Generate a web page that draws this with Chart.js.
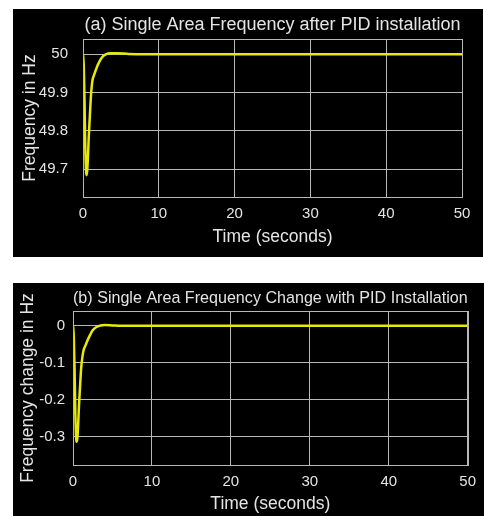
<!DOCTYPE html>
<html>
<head>
<meta charset="utf-8">
<script src="https://cdn.jsdelivr.net/npm/chart.js@4"></script>
<style>
  html, body { margin: 0; padding: 0; background: #ffffff; width: 484px; height: 516px; overflow: hidden; }
  .panel { position: absolute; background: #000000; }
  #pa { left: 13px; top: 9px; width: 470px; height: 248px; }
  #pb { left: 13px; top: 283px; width: 471px; height: 233px; }
  canvas { display: block; }
</style>
</head>
<body>
<div class="panel" id="pa"><canvas id="ca"></canvas></div>
<div class="panel" id="pb"><canvas id="cb"></canvas></div>
<script>
// ---- Data (a): frequency after PID installation ----
const timeA = [0, 0.1, 0.2, 0.3, 0.4, 0.47, 0.55, 0.65, 0.75, 0.88, 1.0, 1.1, 1.25, 1.5, 1.8, 2.2, 2.65, 3.0, 3.6, 4.5, 6, 8, 50];
const freqA = [50, 49.97, 49.88, 49.76, 49.695, 49.684, 49.695, 49.73, 49.78, 49.83, 49.875, 49.905, 49.932, 49.948, 49.965, 49.982, 49.995, 50.0, 50.003, 50.003, 50.001, 50, 50];
const yTicksA = [49.7, 49.8, 49.9, 50];

// ---- Data (b): frequency change with PID installation ----
const timeB = [0, 0.1, 0.2, 0.3, 0.4, 0.46, 0.55, 0.65, 0.75, 0.88, 1.0, 1.1, 1.3, 1.6, 2.0, 2.5, 3.0, 3.5, 4, 5, 6, 50];
const deltaB = [0, -0.03, -0.12, -0.24, -0.305, -0.314, -0.305, -0.27, -0.22, -0.17, -0.125, -0.1, -0.07, -0.052, -0.032, -0.012, -0.003, 0.001, 0.002, 0.001, 0, 0];
const yTicksB = [-0.3, -0.2, -0.1, 0];

const xTicks = [0, 10, 20, 30, 40, 50];

const TEXT = '#e4e4e4';
const GRID = '#b8b8b8';
const LINE = '#e8e80a';
const FONT = 'Liberation Sans, Arial, sans-serif';

const borderPlugin = {
  id: 'boxBorder',
  afterDraw(chart) {
    const a = chart.chartArea, ctx = chart.ctx;
    ctx.save();
    ctx.strokeStyle = GRID;
    ctx.lineWidth = 1;
    ctx.strokeRect(Math.round(a.left) + 0.5, Math.round(a.top) + 0.5, Math.round(a.right - a.left), Math.round(a.bottom - a.top));
    ctx.restore();
  }
};

function makeChart(id, w, h, times, values, yTicks, yMin, yMax, title, yTitle, cfg) {
  const cv = document.getElementById(id);
  cv.width = w; cv.height = h;
  return new Chart(cv, {
    type: 'line',
    data: {
      datasets: [{
        data: times.map((t, i) => ({ x: t, y: values[i] })),
        borderColor: LINE,
        borderWidth: 2.5,
        pointRadius: 0,
        cubicInterpolationMode: 'monotone',
        fill: false
      }]
    },
    options: {
      responsive: false,
      animation: false,
      layout: { padding: { left: 0, right: cfg.padRight, top: 0, bottom: 0 } },
      plugins: {
        legend: { display: false },
        tooltip: { enabled: false },
        title: {
          display: true,
          text: title,
          color: TEXT,
          fullSize: false,
          font: { family: FONT, size: cfg.titleSize, weight: 'normal' },
          padding: { top: cfg.titleTop, bottom: cfg.titleBottom }
        }
      },
      scales: {
        x: {
          type: 'linear',
          min: 0, max: 50,
          afterBuildTicks: s => { s.ticks = xTicks.map(v => ({ value: v })); },
          afterFit: s => { s.height = cfg.xHeight; },
          grid: { color: GRID, drawTicks: false, lineWidth: 1 },
          border: { display: false },
          ticks: { color: TEXT, font: { family: FONT, size: 15 }, padding: cfg.xTickPad, maxRotation: 0 },
          title: { display: true, text: 'Time (seconds)', color: TEXT, font: { family: FONT, size: 17.5 }, padding: { top: 0, bottom: cfg.xTitleBottom } }
        },
        y: {
          type: 'linear',
          min: yMin, max: yMax,
          afterBuildTicks: s => { s.ticks = yTicks.map(v => ({ value: v })); },
          afterFit: s => { s.width = cfg.yWidth; },
          grid: { color: GRID, drawTicks: false, lineWidth: 1 },
          border: { display: false },
          ticks: { color: TEXT, font: { family: FONT, size: 15 }, padding: cfg.yTickPad, callback: v => String(Math.round(v * 1000) / 1000) },
          title: { display: true, text: yTitle, color: TEXT, font: { family: FONT, size: 17.5 }, padding: { top: cfg.yTitleLeft, bottom: 0 } }
        }
      }
    },
    plugins: [borderPlugin]
  });
}

makeChart('ca', 470, 248, timeA, freqA, yTicksA, 49.627, 50.04,
  '(a) Single Area Frequency after PID installation', 'Frequency in Hz',
  { padRight: 21, titleSize: 18, titleTop: 5, titleBottom: 3.4, xHeight: 60, xTickPad: 8, xTitleBottom: 9, yWidth: 70, yTickPad: 15, yTitleLeft: 6.5 });

makeChart('cb', 471, 233, timeB, deltaB, yTicksB, -0.377, 0.04,
  '(b) Single Area Frequency Change with PID Installation', 'Frequency change in Hz',
  { padRight: 14, titleSize: 17.1, titleTop: 4.6, titleBottom: 2.9, xHeight: 51, xTickPad: 8, xTitleBottom: 1, yWidth: 60, yTickPad: 8, yTitleLeft: 4.5 });
</script>
</body>
</html>
